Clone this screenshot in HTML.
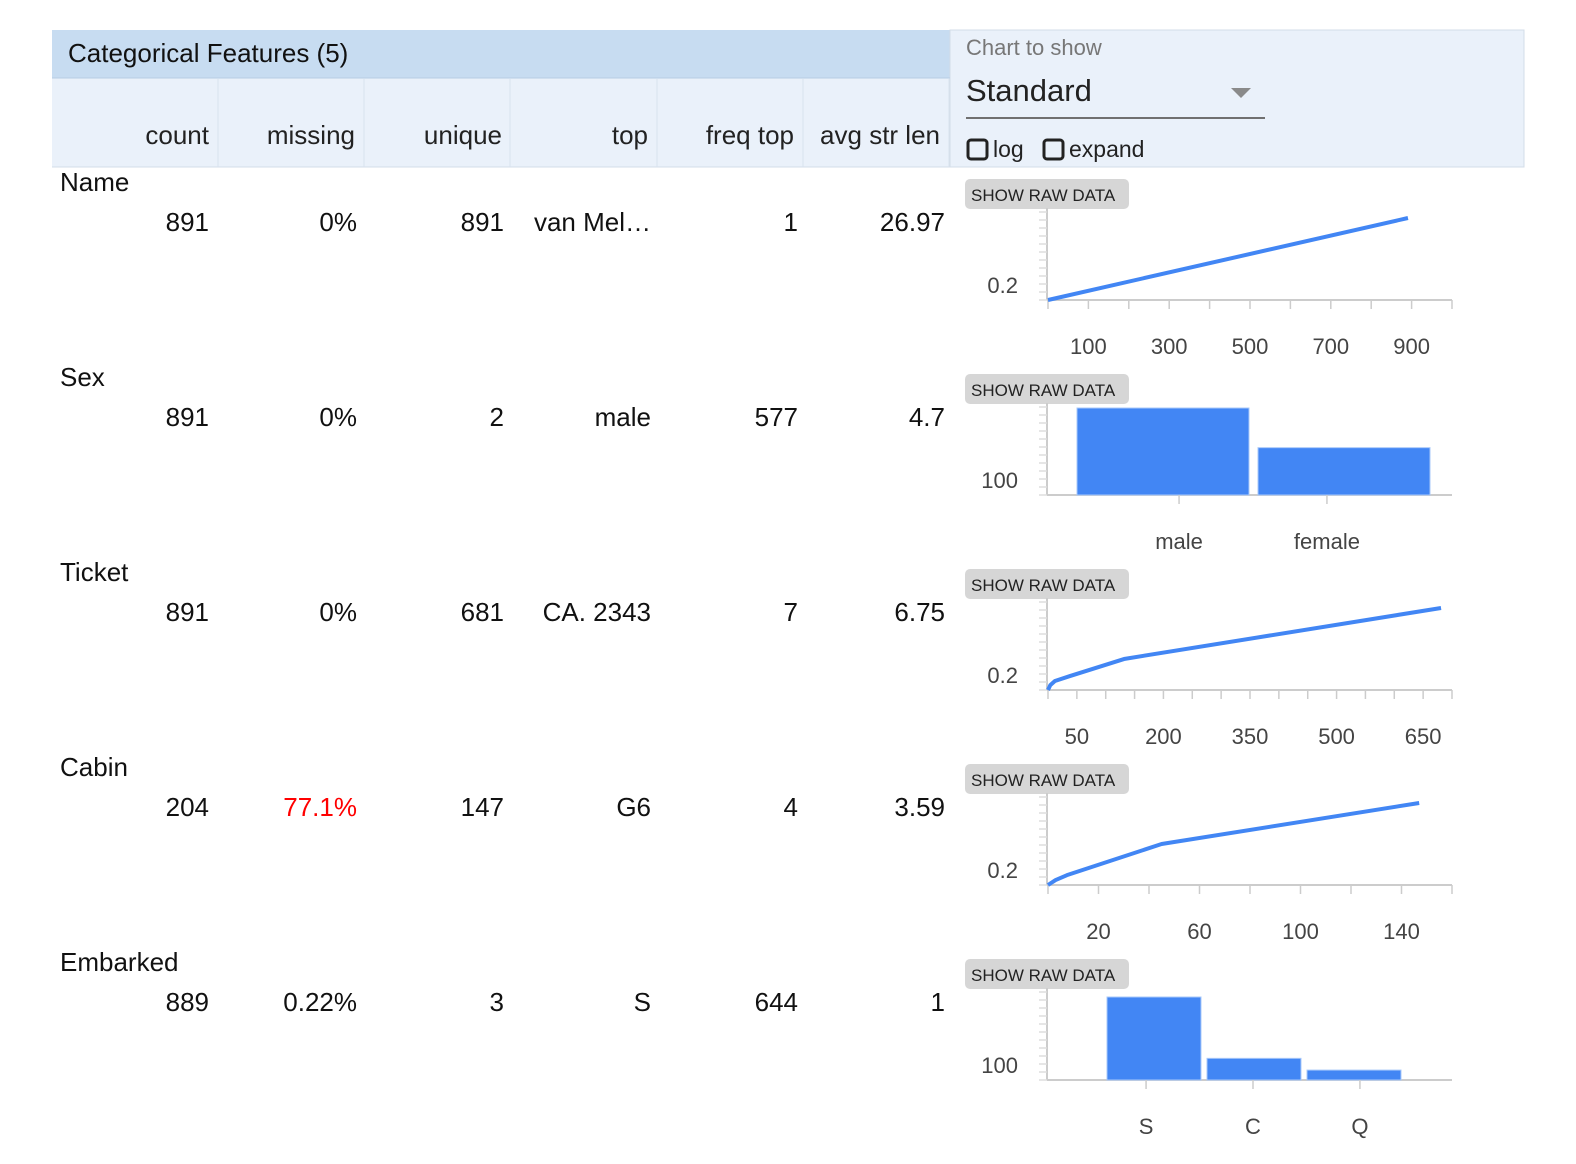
<!DOCTYPE html>
<html><head><meta charset="utf-8"><style>
html,body{margin:0;padding:0;background:#fff;width:1576px;height:1164px;overflow:hidden}
svg{display:block;font-family:"Liberation Sans",Arial,sans-serif}
</style></head><body>
<svg id="s" width="1576" height="1164" viewBox="0 0 1576 1164">
<rect x="52" y="30" width="898" height="48" fill="#c7dcf1"/>
<rect x="52" y="78" width="898" height="89" fill="#eaf1fa"/>
<rect x="950" y="30" width="574" height="137" fill="#eaf1fa" stroke="#d3dde8"/>
<line x1="52" y1="167" x2="950" y2="167" stroke="#d3dde8"/>
<line x1="52" y1="78" x2="950" y2="78" stroke="#b7cde4"/>
<text x="68" y="62" font-size="26" fill="#111">Categorical Features (5)</text>
<g font-size="26" fill="#222" text-anchor="end">
<text x="209" y="144">count</text>
<text x="355" y="144">missing</text>
<text x="502" y="144">unique</text>
<text x="648" y="144">top</text>
<text x="794" y="144">freq top</text>
<text x="940" y="144">avg str len</text>
</g>
<g stroke="#d8e2ee">
<line x1="218" y1="79" x2="218" y2="167"/><line x1="364" y1="79" x2="364" y2="167"/><line x1="510" y1="79" x2="510" y2="167"/><line x1="657" y1="79" x2="657" y2="167"/><line x1="803" y1="79" x2="803" y2="167"/><line x1="949" y1="79" x2="949" y2="167"/>
</g>
<text x="966" y="55" font-size="22" fill="#777">Chart to show</text>
<g>
<text x="966" y="101" font-size="31" fill="#222">Standard</text>
<polygon points="1231,88 1251,88 1241,98" fill="#8a8a8a"/>
<line x1="966" y1="118" x2="1265" y2="118" stroke="#707070" stroke-width="2"/>
</g>
<g><rect x="968" y="140" width="19" height="19" rx="3" fill="none" stroke="#222" stroke-width="3"/><text x="993" y="157" font-size="23" fill="#222">log</text></g>
<g><rect x="1044" y="140" width="19" height="19" rx="3" fill="none" stroke="#222" stroke-width="3"/><text x="1069" y="157" font-size="23" fill="#222">expand</text></g>
<g id="rows"></g>
</svg>
<script>
const NS="http://www.w3.org/2000/svg";
const svg=document.getElementById('rows');
function el(t,a,p){const e=document.createElementNS(NS,t);for(const k in a)e.setAttribute(k,a[k]);(p||svg).appendChild(e);return e;}
function txt(x,y,s,a,p){const e=el('text',Object.assign({x:x,y:y},a),p);e.textContent=s;return e;}

const featureNames=["Name","Sex","Ticket","Cabin","Embarked"];
const counts=["891","891","891","204","889"];
const missing=["0%","0%","0%","77.1%","0.22%"];
const uniques=["891","2","681","147","3"];
const tops=["van Mel\u2026","male","CA. 2343","G6","S"];
const freqTops=["1","577","7","4","644"];
const avgLens=["26.97","4.7","6.75","3.59","1"];

// CDF charts
const nameCdfX=[0,891]; const nameCdfY=[0,1];
const nameTicks=[100,300,500,700,900];
const ticketCdfX=[0,4,12,38,133,681]; const ticketCdfY=[0,0.06,0.11,0.17,0.38,1];
const ticketTicks=[50,200,350,500,650];
const cabinCdfX=[0,3,7.5,45,147]; const cabinCdfY=[0,0.06,0.12,0.5,1];
const cabinTicks=[20,60,100,140];
// bar charts
const sexCats=["male","female"]; const sexVals=[577,314];
const embCats=["S","C","Q"]; const embVals=[644,168,77];

const colX=[209,357,504,651,798,945];
for(let i=0;i<5;i++){
  const g=el('g',{});  
  const y0=195*i;
  const n=txt(60,191+y0,featureNames[i],{'font-size':26,fill:'#111'},g);
   
  const vals=[counts[i],missing[i],uniques[i],tops[i],freqTops[i],avgLens[i]];
  const names=['count','missing','unique','top','freq-top','avg-str-len'];
  for(let c=0;c<6;c++){
    const red=(c===1&&parseFloat(vals[c])>50);
    const t=txt(colX[c],231+y0,vals[c],{'font-size':26,fill:red?'#f00':'#111','text-anchor':'end'},g);
     
  }
  const b=el('g',{},g);  
  el('rect',{x:965,y:179+y0,width:164,height:30,rx:5,fill:'#d6d6d6'},b);
  txt(971,201+y0,'SHOW RAW DATA',{'font-size':17,fill:'#222'},b);
}

function yAxis(g,base,label){
  el('line',{x1:1047,y1:base-92,x2:1047,y2:base,stroke:'#ccc','stroke-width':2},g);
  for(let k=0;k<12;k++){const yy=base-k*8;el('line',{x1:1039,y1:yy,x2:1047,y2:yy,stroke:'#ddd','stroke-width':1.5},g);}
  const t=txt(1018,base-7,label,{'font-size':22,fill:'#444','text-anchor':'end'},g);
   
}
function cdf(idx,xs,ys,ticks,max,minorStep){
  const base=300+195*idx;
  const g=el('g',{});  
  const sx=v=>1048+v*(404/max), sy=v=>base-v*82;
  yAxis(g,base,'0.2');
  el('line',{x1:1047,y1:base,x2:1452,y2:base,stroke:'#ccc','stroke-width':2},g);
  for(let v=0;v<=max+1e-9;v+=minorStep){el('line',{x1:sx(v),y1:base,x2:sx(v),y2:base+9,stroke:'#ccc','stroke-width':1.5},g);}
  ticks.forEach(v=>{const t=txt(sx(v),base+54,String(v),{'font-size':22,fill:'#444','text-anchor':'middle'},g);
     });
  const p=el('polyline',{points:xs.map((x,k)=>sx(x)+','+sy(ys[k])).join(' '),fill:'none',stroke:'#4286f4','stroke-width':4,'stroke-linejoin':'round'},g);
   
}
function bars(idx,cats,vals,scale,x0,bw,gap){
  const base=300+195*idx;
  const g=el('g',{});  
  yAxis(g,base,'100');
  el('line',{x1:1047,y1:base,x2:1452,y2:base,stroke:'#ccc','stroke-width':2},g);
  const n=cats.length, step=386/(n+0.61);
  cats.forEach((c,k)=>{
    const x=x0+k*(bw+gap), h=vals[k]*scale;
    const r=el('rect',{x:x,y:base-h,width:bw,height:h,fill:'#4286f4',stroke:'#a8c8fa','stroke-width':1},g);
     
    const cx=1253+(k-(n-1)/2)*step;
    el('line',{x1:cx,y1:base,x2:cx,y2:base+9,stroke:'#ccc','stroke-width':1.5},g);
    const t=txt(cx,base+54,c,{'font-size':22,fill:'#444','text-anchor':'middle'},g);
     
  });
}
cdf(0,nameCdfX,nameCdfY,nameTicks,1000,100);
bars(1,sexCats,sexVals,87/577,1077,172,9);
cdf(2,ticketCdfX,ticketCdfY,ticketTicks,700,50);
cdf(3,cabinCdfX,cabinCdfY,cabinTicks,160,20);
bars(4,embCats,embVals,83/644,1107,94,6);
</script>
</body></html>
